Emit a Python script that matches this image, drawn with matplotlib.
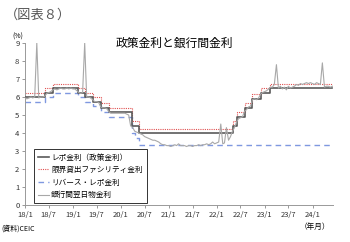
import matplotlib
matplotlib.use("Agg")
import matplotlib.pyplot as plt
import pandas as pd

plt.rcParams['font.family'] = ['Noto Sans CJK JP', 'DejaVu Sans']

# policy rate change dates (step series)
repo_dates = ["2018-01-01", "2018-06-06", "2018-08-01", "2019-02-07", "2019-04-04",
              "2019-06-06", "2019-08-07", "2019-10-04", "2020-03-27", "2020-05-22",
              "2022-05-04", "2022-06-08", "2022-08-05", "2022-09-30", "2022-12-07",
              "2023-02-08", "2024-06-01"]
repo = [6.00, 6.25, 6.50, 6.25, 6.00, 5.75, 5.40, 5.15, 4.40, 4.00,
        4.40, 4.90, 5.40, 5.90, 6.25, 6.50, 6.50]
msf = [6.25, 6.50, 6.75, 6.50, 6.25, 6.00, 5.65, 5.40, 4.65, 4.25,
       4.65, 5.15, 5.65, 6.15, 6.50, 6.75, 6.75]

rrepo_dates = ["2018-01-01", "2018-06-06", "2018-08-01", "2019-02-07", "2019-04-04",
               "2019-06-06", "2019-08-07", "2019-10-04", "2020-03-27", "2020-04-17",
               "2020-05-22", "2024-06-01"]
rrepo = [5.75, 6.00, 6.25, 6.00, 5.75, 5.50, 5.15, 4.90, 4.00, 3.75, 3.35, 3.35]

# interbank overnight rate, 1st and 16th of each month, 2018/1 - 2024/6
call = [
    5.95, 5.90, 5.95, 6.00, 5.95, 6.00, 9.00, 5.95, 6.00, 6.00, 6.05, 6.20,
    6.25, 6.30, 6.40, 6.45, 6.40, 6.45, 6.50, 6.45, 6.45, 6.50, 6.45, 6.50,  # 2018
    6.45, 6.45, 6.35, 6.25, 6.20, 6.25, 9.00, 6.00, 6.00, 5.95, 5.85, 5.75,
    5.75, 5.70, 5.45, 5.40, 5.40, 5.35, 5.20, 5.10, 5.10, 5.10, 5.10, 5.10,  # 2019
    5.10, 5.10, 5.10, 5.05, 5.00, 4.40, 4.30, 4.10, 4.05, 4.00, 3.95, 3.90,
    3.80, 3.75, 3.70, 3.65, 3.60, 3.60, 3.55, 3.50, 3.40, 3.35, 3.35, 3.30,  # 2020
    3.30, 3.25, 3.30, 3.35, 3.30, 3.40, 3.30, 3.30, 3.30, 3.25, 3.30, 3.30,
    3.25, 3.30, 3.30, 3.35, 3.30, 3.35, 3.35, 3.40, 3.35, 3.40, 3.50, 3.40,  # 2021
    3.45, 3.50, 4.50, 3.40, 3.45, 4.30, 3.60, 3.80, 4.10, 4.30, 4.60, 4.80,
    4.85, 4.90, 5.20, 5.30, 5.45, 5.50, 5.85, 5.90, 5.85, 5.95, 6.15, 6.25,  # 2022
    6.30, 6.35, 6.45, 6.55, 6.55, 6.70, 7.80, 6.50, 6.60, 6.45, 6.55, 6.40,
    6.60, 6.50, 6.55, 6.60, 6.70, 6.65, 6.75, 6.70, 6.75, 6.80, 6.75, 6.80,  # 2023
    6.75, 6.70, 6.80, 6.75, 6.70, 7.90, 6.55, 6.60, 6.60, 6.55, 6.60,         # 2024
]

xticks = ["2018-01", "2018-07", "2019-01", "2019-07", "2020-01", "2020-07", "2021-01",
          "2021-07", "2022-01", "2022-07", "2023-01", "2023-07", "2024-01"]
xlabels = ["18/1", "18/7", "19/1", "19/7", "20/1", "20/7", "21/1",
           "21/7", "22/1", "22/7", "23/1", "23/7", "24/1"]

call_dates = []
for m in pd.date_range("2018-01-01", "2024-06-01", freq="MS"):
    call_dates.append(m)
    call_dates.append(m + pd.Timedelta(days=15))
call_dates = call_dates[:len(call)]

fig = plt.figure(figsize=(3.5, 2.42), dpi=100)
ax = fig.add_axes([0.0714, 0.153, 0.88, 0.669])

ax.plot(pd.to_datetime(repo_dates), repo, drawstyle="steps-post", color="#5a5a5a", lw=1.2,
        label="レポ金利（政策金利）", zorder=3)
ax.plot(pd.to_datetime(repo_dates), msf, drawstyle="steps-post", color="#e05050", lw=0.8,
        ls=(0, (1, 1)), label="限界貸出ファシリティ金利", zorder=2)
ax.plot(pd.to_datetime(rrepo_dates), rrepo, drawstyle="steps-post", color="#7f98e0", lw=1.0,
        ls=(0, (4, 3)), label="リバース・レポ金利", zorder=2)
ax.plot(call_dates, call, color="#a8a8a8", lw=0.8, label="銀行間翌日物金利", zorder=4)

ax.set_ylim(0, 9)
ax.set_yticks(range(0, 10))
ax.set_xlim(pd.Timestamp("2018-01-01"), pd.Timestamp("2024-06-05"))
ax.set_xticks(pd.to_datetime(xticks))
ax.set_xticklabels(xlabels)
ax.tick_params(labelsize=5.5, length=2, width=0.6, color="#888888", pad=2, labelcolor="#333333")
for s in ["top", "right"]:
    ax.spines[s].set_visible(False)
for s in ["left", "bottom"]:
    ax.spines[s].set_color("#999999")
    ax.spines[s].set_linewidth(0.7)

leg = ax.legend(loc="lower left", bbox_to_anchor=(0.022, -0.005), fontsize=5.5, frameon=True,
                fancybox=False, handlelength=1.4, borderpad=0.55, labelspacing=0.6,
                handletextpad=0.3, borderaxespad=0.3)
leg.get_frame().set_edgecolor("black")
leg.get_frame().set_linewidth(0.7)

fig.text(0.015, 0.935, "（図表８）", fontsize=9.5, color="#555555", va="center")
fig.text(0.497, 0.822, "政策金利と銀行間金利", fontsize=8.5, ha="center", va="center")
fig.text(0.035, 0.85, "(%)", fontsize=5, va="center")
fig.text(0.005, 0.055, "(資料)CEIC", fontsize=5, va="center")
fig.text(0.9, 0.062, "（年月）", fontsize=5.5, ha="center", va="center")

fig.savefig("out.png", dpi=100)
